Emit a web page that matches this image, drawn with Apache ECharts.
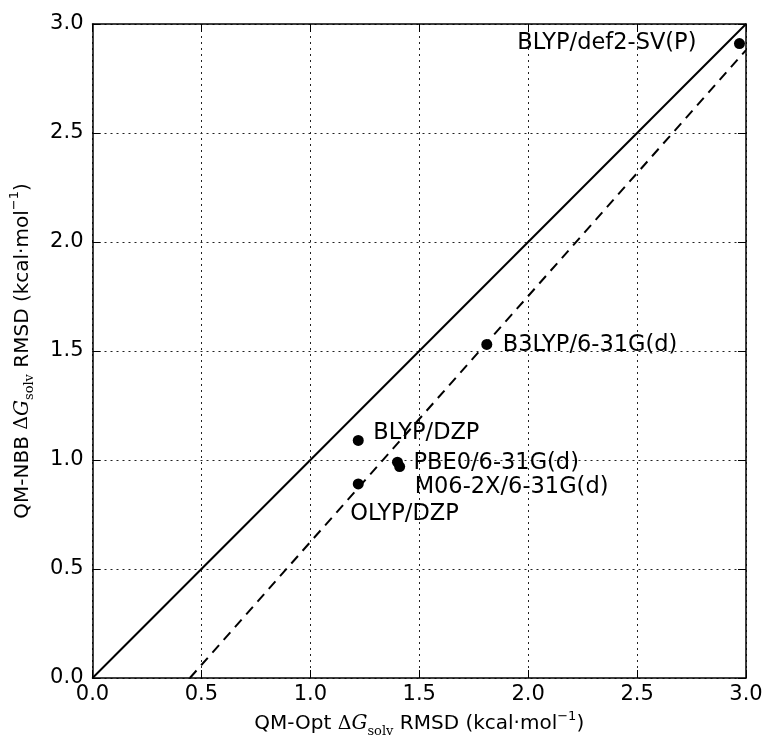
<!DOCTYPE html>
<html>
<head>
<meta charset="utf-8">
<script src="https://cdn.jsdelivr.net/npm/echarts@6/dist/echarts.min.js"></script>
<style>
html,body{margin:0;padding:0;background:#fff;}
#chart{width:767px;height:743px;}
</style>
</head>
<body>
<div id="chart"></div>
<script>
// ---- data ----
const methods = ['BLYP/def2-SV(P)', 'B3LYP/6-31G(d)', 'BLYP/DZP', 'PBE0/6-31G(d)', 'M06-2X/6-31G(d)', 'OLYP/DZP'];
const optRmsd = [2.97, 1.81, 1.22, 1.40, 1.41, 1.22];   // QM-Opt RMSD (x)
const nbbRmsd = [2.91, 1.53, 1.09, 0.99, 0.97, 0.89];   // QM-NBB RMSD (y)
const identityLine = [[0, 0], [3, 3]];
const fitLine = [[0.447, 0], [3.0, 2.88]];
const axisMin = 0, axisMax = 3, axisStep = 0.5;

// ---- label placement (style, not data) ----
const labelPlacement = [
  {align: 'right', offset: [-43, 0]},
  {align: 'left', offset: [16, 1]},
  {align: 'left', offset: [15, -7]},
  {align: 'left', offset: [16, 1]},
  {align: 'left', offset: [15, 21]},
  {align: 'left', offset: [-8, 30]}
];

const FONT = 'DejaVu Sans';
const richStyles = {
  t: {fontFamily: FONT, fontSize: 20, color: '#000', lineHeight: 28},
  d: {fontFamily: 'DejaVu Serif', fontSize: 19, color: '#000', lineHeight: 28},
  g: {fontFamily: 'DejaVu Serif', fontStyle: 'italic', fontSize: 20, color: '#000', lineHeight: 28},
  s: {fontFamily: 'DejaVu Serif', fontSize: 13, color: '#000', lineHeight: 14, verticalAlign: 'bottom'},
  p: {fontFamily: FONT, fontSize: 13, color: '#000', lineHeight: 14, verticalAlign: 'top'}
};
function axisTitle(prefix) {
  return '{t|' + prefix + ' }{d|Δ}{g|G}{s|solv}{t| RMSD (kcal·mol}{p|−1}{t|)}';
}

const scatterData = methods.map((m, i) => ({
  name: m,
  value: [optRmsd[i], nbbRmsd[i]],
  label: {
    show: true,
    position: 'inside',
    align: labelPlacement[i].align,
    verticalAlign: 'middle',
    offset: labelPlacement[i].offset,
    formatter: m,
    fontFamily: FONT,
    fontSize: 22.5,
    color: '#000',
    opacity: 1
  }
}));

const gridLine = {show: true, lineStyle: {color: '#222', width: 1, type: [2, 4]}};
const axisLineStyle = {show: true, onZero: false, lineStyle: {color: '#000', width: 1.5}};
const tickStyle = {show: true, inside: true, length: 8, lineStyle: {color: '#000', width: 1}};
const tickLabel = {fontFamily: FONT, fontSize: 21, color: '#000', formatter: v => v.toFixed(1)};

const chart = echarts.init(document.getElementById('chart'), null, {renderer: 'canvas'});
chart.setOption({
  backgroundColor: '#fff',
  animation: false,
  grid: {left: 92.5, right: 21, top: 24, bottom: 65},
  xAxis: [
    {
      type: 'value', min: axisMin, max: axisMax, interval: axisStep, position: 'bottom',
      axisLine: axisLineStyle, axisTick: tickStyle, splitLine: gridLine,
      axisLabel: Object.assign({margin: 6}, tickLabel),
      name: axisTitle('QM-Opt'), nameLocation: 'middle', nameGap: 27,
      nameTextStyle: {rich: richStyles}
    },
    {
      type: 'value', min: axisMin, max: axisMax, interval: axisStep, position: 'top',
      axisLine: axisLineStyle, axisTick: tickStyle, splitLine: {show: false},
      axisLabel: {show: false}
    }
  ],
  yAxis: [
    {
      type: 'value', min: axisMin, max: axisMax, interval: axisStep, position: 'left',
      axisLine: axisLineStyle, axisTick: tickStyle, splitLine: gridLine,
      axisLabel: Object.assign({margin: 9}, tickLabel),
      name: axisTitle('QM-NBB'), nameLocation: 'middle', nameGap: 56, nameRotate: 90,
      nameTextStyle: {rich: richStyles}
    },
    {
      type: 'value', min: axisMin, max: axisMax, interval: axisStep, position: 'right',
      axisLine: axisLineStyle, axisTick: tickStyle, splitLine: {show: false},
      axisLabel: {show: false}
    }
  ],
  series: [
    {
      type: 'line', data: identityLine, symbol: 'none', silent: true,
      lineStyle: {color: '#000', width: 2}, z: 2
    },
    {
      type: 'line', data: fitLine, symbol: 'none', silent: true,
      lineStyle: {color: '#000', width: 2, type: [10, 7]}, z: 2
    },
    {
      type: 'scatter', data: scatterData, symbol: 'circle', symbolSize: 11,
      itemStyle: {color: '#000', opacity: 1}, z: 3
    }
  ]
});
</script>
</body>
</html>
